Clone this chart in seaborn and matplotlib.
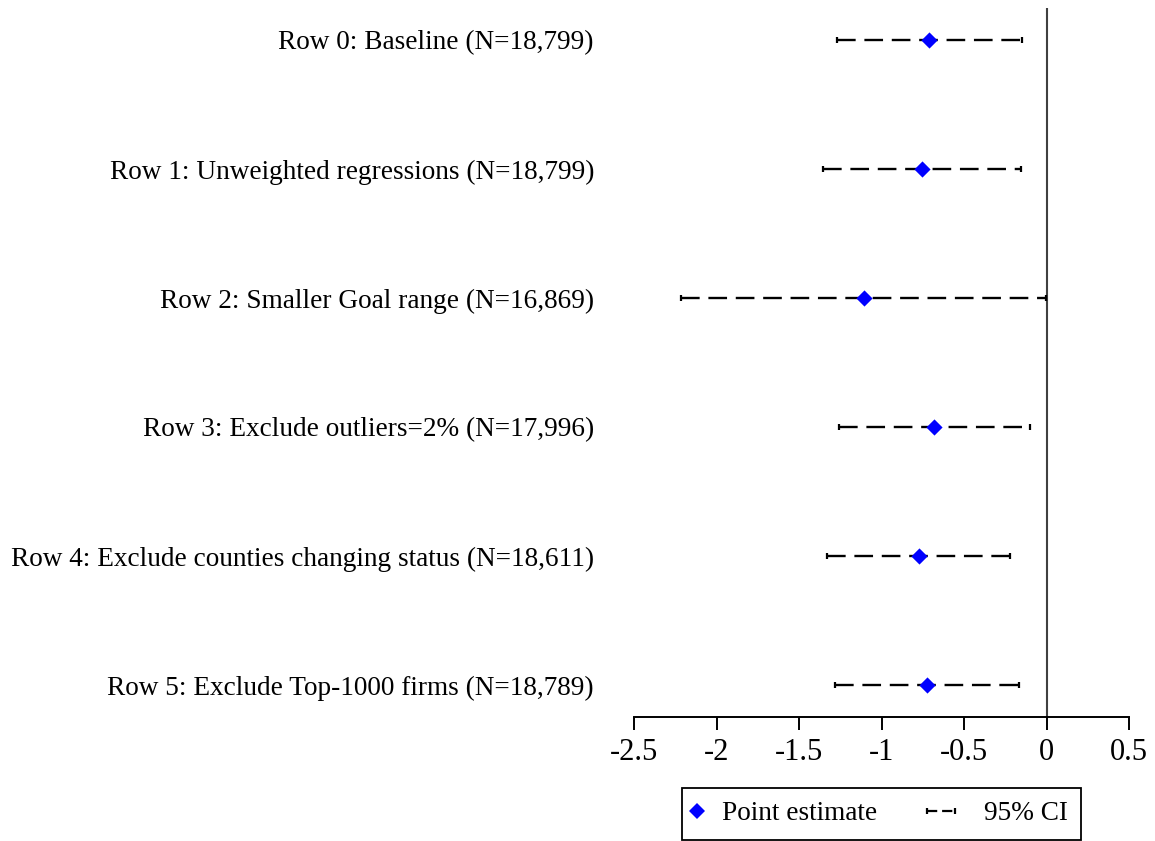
import matplotlib
matplotlib.use("Agg")
import matplotlib.pyplot as plt
import seaborn as sns
import pandas as pd
from matplotlib.lines import Line2D
from matplotlib.legend_handler import HandlerBase, HandlerLine2D

# Robustness checks: point estimates with 95% confidence intervals
row_labels = [
    "Row 0: Baseline (N=18,799)",
    "Row 1: Unweighted regressions (N=18,799)",
    "Row 2: Smaller Goal range (N=16,869)",
    "Row 3: Exclude outliers=2% (N=17,996)",
    "Row 4: Exclude counties changing status (N=18,611)",
    "Row 5: Exclude Top-1000 firms (N=18,789)",
]
estimates = [-0.714, -0.756, -1.105, -0.679, -0.774, -0.722]
ci_low = [-1.270, -1.353, -2.214, -1.258, -1.329, -1.281]
ci_high = [-0.151, -0.157, -0.002, -0.099, -0.220, -0.168]

x_ticks = [-2.5, -2, -1.5, -1, -0.5, 0, 0.5]
x_tick_labels = ["-2.5", "-2", "-1.5", "-1", "-0.5", "0", "0.5"]

df = pd.DataFrame({
    "label": row_labels,
    "row": range(len(row_labels)),
    "estimate": estimates,
    "lo": ci_low,
    "hi": ci_high,
})

sns.set_style("white")
plt.rcParams["font.family"] = ["Liberation Serif", "DejaVu Serif"]
plt.rcParams["axes.unicode_minus"] = False
plt.rcParams["text.color"] = "black"

W, H = 1155, 841
fig = plt.figure(figsize=(W / 100, H / 100), dpi=100)
ax = fig.add_axes([634 / W, 1 - 717 / H, (1129 - 634) / W, (717 - 8) / H])

# zero reference line
ax.axvline(0, color="#404040", lw=1.5, zorder=1)

# confidence intervals as dashed bars with small caps
err = ax.errorbar(
    df["estimate"], df["row"],
    xerr=[df["estimate"] - df["lo"], df["hi"] - df["estimate"]],
    fmt="none", ecolor="black", elinewidth=1.7, capsize=2.3, capthick=1.6, zorder=2,
)
for lc in err[2]:
    lc.set_linestyle((0, (7.9, 3.7)))

# point estimates
sns.scatterplot(
    data=df, x="estimate", y="row", marker="D", s=68, color="#0000ff",
    linewidth=0, zorder=3, legend=False, ax=ax,
)

ax.set_xlim(-2.5, 0.5)
ax.set_ylim(len(row_labels) - 1 + 0.248, -0.248)
ax.set_xticks(x_ticks, x_tick_labels)
ax.set_yticks(df["row"], df["label"])
ax.set_xlabel("")
ax.set_ylabel("")

for side in ["top", "right", "left"]:
    ax.spines[side].set_visible(False)
ax.spines["bottom"].set_color("black")
ax.spines["bottom"].set_linewidth(1.4)

ax.tick_params(axis="x", direction="out", length=9.4, width=1.4, color="black",
               labelsize=22, pad=6, labelcolor="black", bottom=True)
ax.tick_params(axis="y", length=0, labelsize=19.6, pad=28.8, labelcolor="black")


class CIHandler(HandlerBase):
    """Dashed interval with end caps, drawn to the left of the text."""

    def create_artists(self, legend, orig_handle, xdescent, ydescent,
                       width, height, fontsize, trans):
        y = height / 2 - ydescent
        x0 = -xdescent - 1.10 * fontsize
        x1 = -xdescent - 0.07 * fontsize
        line = Line2D([x0, x1], [y, y], color="black", lw=1.6,
                      linestyle=(0, (4.6, 2.2)))
        caps = Line2D([x0, x1], [y, y], color="black", linestyle="none",
                      marker="|", markersize=4.6, markeredgewidth=1.6)
        line.set_transform(trans)
        caps.set_transform(trans)
        return [line, caps]


pt_handle = Line2D([], [], linestyle="none", marker="D", markersize=8.2,
                   color="#0000ff", markeredgewidth=0)
ci_handle = Line2D([], [], color="black")

leg = fig.legend(
    [pt_handle, ci_handle], ["Point estimate", "95% CI"],
    handler_map={pt_handle: HandlerLine2D(numpoints=1, xpad=-0.77),
                 ci_handle: CIHandler()},
    loc="upper center", bbox_to_anchor=(881.5 / W, 1 - 788 / H),
    ncol=2, fontsize=19.6, frameon=True, fancybox=False, shadow=False,
    borderaxespad=0, borderpad=0.49, handlelength=0.9, handletextpad=0.08,
    columnspacing=2.95,
)
leg.get_frame().set_edgecolor("black")
leg.get_frame().set_linewidth(1.3)
leg.get_frame().set_facecolor("white")
leg.get_frame().set_alpha(1)

fig.savefig("out.png", dpi=100, facecolor="white")
